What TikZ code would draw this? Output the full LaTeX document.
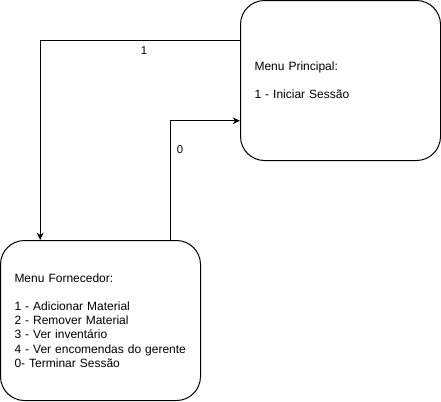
\documentclass[tikz,border=0pt]{standalone}
\usepackage{fontspec}
\setmainfont{Liberation Sans}
\usetikzlibrary{positioning,calc,arrows.meta}

\begin{document}
\begin{tikzpicture}[x=0.75pt,y=-0.75pt,>={Stealth[length=5.5pt,width=5pt]},line cap=round,line join=round]
	\tikzset{
		menu/.style={draw,line width=0.75pt,rounded corners=18pt,minimum width=150pt,minimum height=120pt,
			inner xsep=10.5pt,text width=129pt,align=left,font=\fontsize{9}{10.6}\selectfont},
		seta/.style={->,line width=0.75pt,line cap=butt},
		rotulo/.style={font=\fontsize{8.5}{10}\selectfont,inner sep=1pt}
	}
	\useasboundingbox (0,0) rectangle (441,401);
	
	% menus
	\node[menu] (principal) at (340.5,80.5) {Menu Principal:\\[\baselineskip]1 - Iniciar Sessão};
	\node[menu] (fornecedor) at (100.5,320.5) {Menu Fornecedor:\\[\baselineskip]1 - Adicionar Material\\2 - Remover Material\\3 - Ver inventário\\4 - Ver encomendas do gerente\\0- Terminar Sessão};
	
	% anchors on the box sides
	\coordinate (pOut) at ($(principal.north west)!0.25!(principal.south west)$);
	\coordinate (pIn) at ($(principal.north west)!0.75!(principal.south west)$);
	\coordinate (fIn) at ($(fornecedor.north west)!0.2!(fornecedor.north east)$);
	\coordinate (fOut) at ($(fornecedor.north west)!0.85!(fornecedor.north east)$);
	
	% connectors
	\draw[seta] (pOut) -| (fIn);
	\draw[seta] (fOut) |- (pIn);
	
	% labels
	\node[rotulo] (op1) at (144,51) {1};
	\node[rotulo] (op0) at (180,150) {0};
\end{tikzpicture}
\end{document}
